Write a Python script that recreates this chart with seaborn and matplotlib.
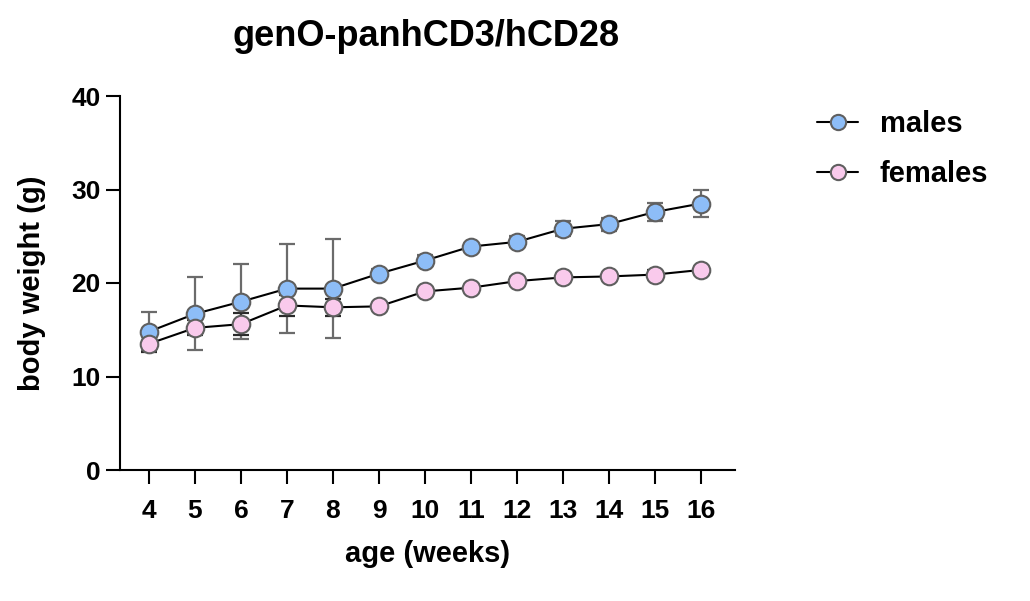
import numpy as np
import pandas as pd
import matplotlib
matplotlib.use("Agg")
import matplotlib.pyplot as plt
import seaborn as sns
from matplotlib.lines import Line2D

weeks = [4, 5, 6, 7, 8, 9, 10, 11, 12, 13, 14, 15, 16]
males = [14.8, 16.7, 18.0, 19.4, 19.4, 21.0, 22.4, 23.9, 24.4, 25.8, 26.3, 27.6, 28.5]
males_err = [2.1, 3.9, 4.0, 4.8, 5.3, 0.5, 0.6, 0.3, 0.6, 0.8, 0.7, 1.0, 1.4]
females = [13.5, 15.2, 15.6, 17.6, 17.4, 17.5, 19.1, 19.5, 20.2, 20.6, 20.7, 20.9, 21.4]
females_err = [0.9, 0.8, 1.2, 1.1, 0.9, 0.3, 0.3, 0.2, 0.4, 0.4, 0.3, 0.5, 0.3]
series_names = ["males", "females"]
fills = ["#8DBDF7", "#F9CAEC"]
err_colors = ["#6b6b6b", "#2a2a2a"]

sns.set_style("ticks")
plt.rcParams['font.family'] = ['Liberation Sans', 'DejaVu Sans']
plt.rcParams['font.weight'] = 'bold'
plt.rcParams['text.color'] = 'black'
plt.rcParams['axes.labelcolor'] = 'black'
plt.rcParams['xtick.color'] = 'black'
plt.rcParams['ytick.color'] = 'black'
plt.rcParams['axes.edgecolor'] = 'black'

df = pd.DataFrame({
    "age": weeks * 2,
    "weight": males + females,
    "sex": ["males"] * len(weeks) + ["females"] * len(weeks),
})

fig = plt.figure(figsize=(10.30, 6.01), dpi=100)
ax = fig.add_axes([120 / 1030, 1 - 470 / 601, 615 / 1030, 374 / 601])

for vals, errs, col in zip([males, females], [males_err, females_err], err_colors):
    ax.errorbar(weeks, vals, yerr=errs, fmt="none", ecolor=col, elinewidth=1.6,
                capsize=5.5, capthick=1.6, zorder=1)

sns.lineplot(data=df, x="age", y="weight", hue="sex", hue_order=series_names,
             palette=["black", "black"], errorbar=None, legend=False, ax=ax,
             linewidth=1.5, zorder=2)
for vals, fc in zip([males, females], fills):
    sns.scatterplot(x=weeks, y=vals, ax=ax, color=fc, edgecolor="#5f5f5f",
                    linewidth=1.5, s=160, zorder=3, legend=False)

ax.set_xlim(3.37, 16.74)
ax.set_ylim(0, 40)
ax.set_xticks(weeks)
ax.set_yticks([0, 10, 20, 30, 40])
ax.tick_params(axis="both", length=10, width=1.5, labelsize=19, direction="out",
               colors="black")
ax.tick_params(axis="x", pad=11)
ax.tick_params(axis="y", pad=4)
for lbl in ax.get_xticklabels() + ax.get_yticklabels():
    lbl.set_fontweight("bold")
for s in ["top", "right"]:
    ax.spines[s].set_visible(False)
for s in ["left", "bottom"]:
    ax.spines[s].set_linewidth(1.5)
    ax.spines[s].set_color("black")
ax.set_xlabel("age (weeks)", fontsize=21, fontweight="bold", labelpad=12)
ax.set_ylabel("body weight (g)", fontsize=21, fontweight="bold", labelpad=18)
fig.text(426 / 1030, 1 - 37 / 601, "genO-panhCD3/hCD28", ha="center", va="center",
         fontsize=26, fontweight="bold")

handles = [Line2D([0], [0], color="black", lw=1.5, marker="o", markersize=11,
                  markerfacecolor=fc, markeredgecolor="#5f5f5f", markeredgewidth=1.5)
           for fc in fills]
leg = fig.legend(handles, series_names, loc="upper left",
                 bbox_to_anchor=(791 / 1030, 1 - 84 / 601), frameon=False,
                 prop={"size": 21, "weight": "bold"}, handlelength=1.4,
                 handletextpad=0.75, labelspacing=0.75)

fig.savefig("out.png", dpi=100)
